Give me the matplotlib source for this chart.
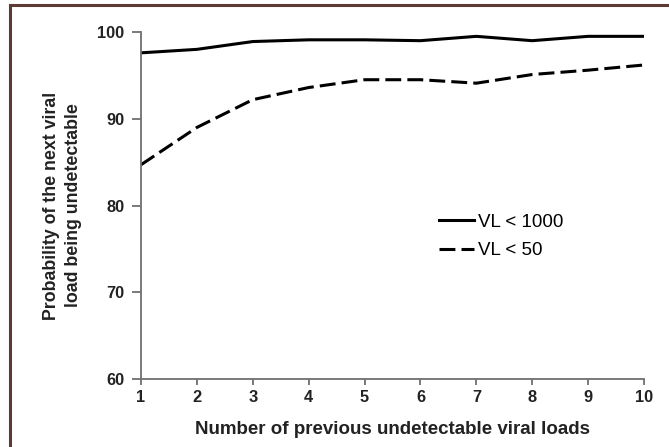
import matplotlib
matplotlib.use('Agg')
import matplotlib.pyplot as plt
from matplotlib.lines import Line2D

plt.rcParams['font.family'] = ['Liberation Sans', 'DejaVu Sans']

n_prev = [1, 2, 3, 4, 5, 6, 7, 8, 9, 10]
vl_1000 = [97.6, 98.0, 98.9, 99.1, 99.1, 99.0, 99.5, 99.0, 99.5, 99.5]
vl_50 = [84.7, 89.0, 92.2, 93.6, 94.5, 94.5, 94.1, 95.1, 95.6, 96.2]
y_ticks = [60, 70, 80, 90, 100]

fig = plt.figure(figsize=(6.69, 4.47), dpi=100)
ax = fig.add_axes([0.2108, 0.1521, 0.7518, 0.7763])

ax.plot(n_prev, vl_1000, color='black', lw=2.2, label='VL < 1000')
ax.plot(n_prev, vl_50, color='black', lw=2.2, dashes=(5.2, 2.0), label='VL < 50')

ax.set_xlim(1, 10)
ax.set_ylim(60, 100)
ax.set_xticks(n_prev)
ax.set_yticks(y_ticks)
for s in ['top', 'right']:
    ax.spines[s].set_visible(False)
for s in ['left', 'bottom']:
    ax.spines[s].set_color('#707070')
    ax.spines[s].set_linewidth(1.3)
ax.tick_params(axis='x', colors='#707070', width=1.3, length=4.5, pad=3.5, direction='out')
ax.tick_params(axis='y', colors='#707070', width=1.3, length=6.5, pad=5.5, direction='out')
for lbl in ax.get_xticklabels() + ax.get_yticklabels():
    lbl.set_color('#222222')
    lbl.set_fontweight('bold')
    lbl.set_fontsize(11.8)

ax.set_xlabel('Number of previous undetectable viral loads', fontsize=13.5,
              fontweight='bold', color='#222222')
ax.xaxis.set_label_coords(0.5, -0.12)
ax.set_ylabel('Probability of the next viral\nload being undetectable', fontsize=12.8,
              fontweight='bold', color='#222222', linespacing=1.35)
ax.yaxis.set_label_coords(-0.118, 0.5)

leg = ax.legend(loc='center left', bbox_to_anchor=(0.592, 0.411), frameon=False,
                borderpad=0, borderaxespad=0, handlelength=1.9, handletextpad=0.2,
                labelspacing=0.62, fontsize=13.5)

# outer frame (left and top edges)
fig.add_artist(Line2D([0.0152, 0.0152], [0, 0.989], transform=fig.transFigure,
                      color='#5e3a34', lw=2.2))
fig.add_artist(Line2D([0.0152, 1.0], [0.989, 0.989], transform=fig.transFigure,
                      color='#5e3a34', lw=2.2))

fig.savefig('out.png', dpi=100)
